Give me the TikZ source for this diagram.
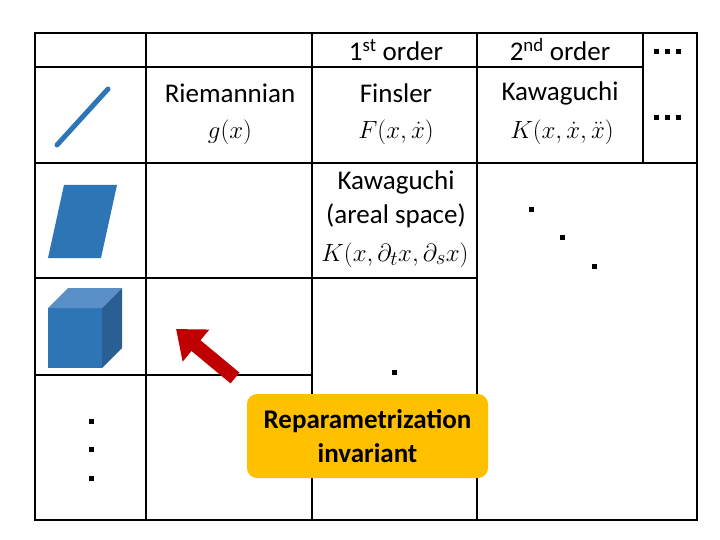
\documentclass[tikz,border=0pt]{standalone}
\usepackage{fontspec}
\setmainfont{Carlito}
\usepackage{amsmath}
\usetikzlibrary{arrows.meta}
\definecolor{bl}{HTML}{2E75B6}
\definecolor{blt}{HTML}{5B8FC7}
\definecolor{bld}{HTML}{2A5F94}
\definecolor{dred}{HTML}{C00000}
\definecolor{gold}{HTML}{FFC000}
\begin{document}
\begin{tikzpicture}[x=1pt,y=-1pt,
  grid/.style={line width=2.6pt},
  txt/.style={font=\fontsize{27}{30}\selectfont, inner sep=0pt},
  mth/.style={font=\fontsize{30}{32}\selectfont, inner sep=0pt},
  dot/.style={fill=black, minimum size=5pt, inner sep=0pt, rectangle}]
\useasboundingbox (0,0) rectangle (720,540);
% grid
\draw[grid] (35,33) rectangle (697,520);
\draw[grid] (146,33) -- (146,520);
\draw[grid] (312,33) -- (312,520);
\draw[grid] (477,33) -- (477,520);
\draw[grid] (643,33) -- (643,163);
\draw[grid] (35,67) -- (643,67);
\draw[grid] (35,163) -- (697,163);
\draw[grid] (35,278) -- (477,278);
\draw[grid] (35,375) -- (312,375);
% icons
\draw[bl, line width=5pt, line cap=round] (57,145) -- (108,89);
\fill[bl] (48,258) -- (101,258) -- (117,185) -- (64,185) -- cycle;
\fill[bl] (48,308) rectangle (102,368);
\fill[blt] (48,308) -- (68,288) -- (122,288) -- (102,308) -- cycle;
\fill[bld] (102,308) -- (122,288) -- (122,348) -- (102,368) -- cycle;
% texts
\node[txt] (h1) at (396,50) {1\textsuperscript{st} order};
\node[txt] (h2) at (560,50) {2\textsuperscript{nd} order};
\node[txt] (rie) at (230,93) {Riemannian};
\node[mth] (g) at (230,132) {$g(x)$};
\node[txt] (fin) at (396,93) {Finsler};
\node[mth] (F) at (396,132) {$F(x,\dot x)$};
\node[txt] (kaw) at (560,93) {Kawaguchi};
\node[mth] (K) at (562,132) {$K(x,\dot x,\ddot x)$};
\node[txt] (kaw2) at (396,182) {Kawaguchi};
\node[txt] (areal) at (396,216) {(areal space)};
\node[mth] (K2) at (395,255) {$K(x,\partial_t x,\partial_s x)$};
% dots
\foreach \p/\n in {{(656,52)}/a1,{(667,52)}/a2,{(678,52)}/a3,
  {(656,118)}/b1,{(667,118)}/b2,{(678,118)}/b3,
  {(91,421)}/c1,{(91,449)}/c2,{(91,478)}/c3,
  {(531,210)}/d1,{(562,237)}/d2,{(594,266)}/d3,{(394,372)}/e1}
  \node[dot] (\n) at \p {};
% box and arrow
\node[fill=gold, rounded corners=10pt, minimum width=241pt, minimum height=84pt, align=center,
  font=\fontsize{27}{34}\selectfont\bfseries] (box) at (367.5,436) {Reparametrization\\invariant};
\coordinate (as) at (235,378);
\coordinate (ae) at (176,329);
\draw[dred, line width=14pt, -{Triangle[length=26pt,width=40pt]}] (as) -- (ae);
\end{tikzpicture}
\end{document}
